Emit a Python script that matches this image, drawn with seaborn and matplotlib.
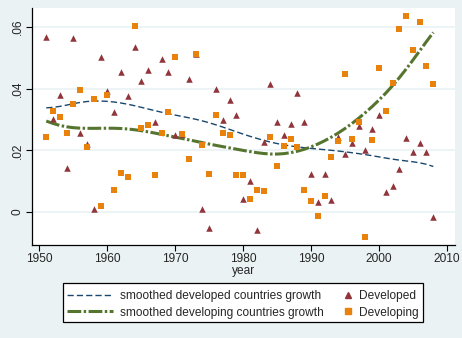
import numpy as np
import pandas as pd
import matplotlib
matplotlib.use("Agg")
import matplotlib.pyplot as plt
import seaborn as sns
from matplotlib.lines import Line2D
from matplotlib.patches import Rectangle

# ---- data ----
years = list(range(1951, 2009))
developed = [0.0569, 0.0303, 0.0380, 0.0143, 0.0566, 0.0255, 0.0221, 0.0011, 0.0502, 0.0394,
             0.0326, 0.0455, 0.0377, 0.0534, 0.0426, 0.0461, 0.0293, 0.0496, 0.0453, 0.0251,
             0.0254, 0.0432, 0.0514, 0.0011, -0.0051, 0.0399, 0.0299, 0.0364, 0.0315, 0.0043,
             0.0101, -0.0058, 0.0227, 0.0416, 0.0293, 0.0251, 0.0284, 0.0387, 0.0293, 0.0123,
             0.0033, 0.0124, 0.0040, 0.0243, 0.0189, 0.0224, 0.0280, 0.0200, 0.0270, 0.0314,
             0.0064, 0.0085, 0.0139, 0.0239, 0.0195, 0.0225, 0.0195, -0.0015]
developing = [0.0242, 0.0328, 0.0307, 0.0255, 0.0352, 0.0397, 0.0211, 0.0367, 0.0021, 0.0381,
              0.0070, 0.0125, 0.0115, 0.0605, 0.0274, 0.0282, 0.0119, 0.0256, 0.0323, 0.0504,
              0.0254, 0.0173, 0.0514, 0.0218, 0.0122, 0.0316, 0.0258, 0.0249, 0.0119, 0.0119,
              0.0041, 0.0073, 0.0067, 0.0245, 0.0148, 0.0215, 0.0238, 0.0211, 0.0073, 0.0037,
              -0.0012, 0.0051, 0.0180, 0.0229, 0.0449, 0.0238, 0.0293, -0.0080, 0.0234, 0.0466,
              0.0329, 0.0420, 0.0595, 0.0637, 0.0527, 0.0615, 0.0475, 0.0416]
y_ticks = [0.0, 0.02, 0.04, 0.06]
y_tick_labels = ["0", ".02", ".04", ".06"]
x_ticks = [1950, 1960, 1970, 1980, 1990, 2000, 2010]
line_labels = ["smoothed developed countries growth", "smoothed developing countries growth"]
marker_labels = ["Developed", "Developing"]


def stata_lowess(x, y, bw=0.8):
    x = np.asarray(x, float)
    y = np.asarray(y, float)
    n = len(x)
    k = int(np.floor((n * bw - 0.5) / 2))
    out = np.empty(n)
    for i in range(n):
        lo, hi = max(0, i - k), min(n - 1, i + k)
        xs, ys = x[lo:hi + 1], y[lo:hi + 1]
        delta = 1.0001 * max(x[hi] - x[i], x[i] - x[lo])
        w = (1 - (np.abs(xs - x[i]) / delta) ** 3) ** 3
        W = w.sum()
        xm = (w * xs).sum() / W
        ym = (w * ys).sum() / W
        b = (w * (xs - xm) * (ys - ym)).sum() / (w * (xs - xm) ** 2).sum()
        out[i] = ym + b * (x[i] - xm)
    return out


df = pd.DataFrame({"year": years, "Developed": developed, "Developing": developing})
df["smooth_dev"] = stata_lowess(df["year"], df["Developed"])
df["smooth_dvg"] = stata_lowess(df["year"], df["Developing"])

BG = "#EAF2F3"
NAVY = "#1A476F"
MAROON = "#90353B"
GREEN = "#55752F"
ORANGE = "#E8820C"
DEV_DASH = [4.5, 2.2]
DVG_DASH = [4.5, 0.8, 0.8, 0.8]
FS = 8.6

sns.set_theme(style="white")
plt.rcParams["font.family"] = ["Liberation Sans", "DejaVu Sans"]

W, H = 462, 338
fig = plt.figure(figsize=(W / 100, H / 100), dpi=100, facecolor=BG)
ax = fig.add_axes([32 / W, 1 - 245 / H, (455 - 32) / W, (245 - 8) / H])
ax.set_facecolor("white")

for t in y_ticks:
    ax.axhline(t, color=BG, lw=1.2, zorder=0)

sns.lineplot(data=df, x="year", y="smooth_dev", ax=ax, color=NAVY, lw=1.0, zorder=2)
ax.lines[-1].set_dashes(DEV_DASH)
sns.lineplot(data=df, x="year", y="smooth_dvg", ax=ax, color=GREEN, lw=2.2, zorder=2)
ax.lines[-1].set_dashes(DVG_DASH)
sns.scatterplot(data=df, x="year", y="Developed", ax=ax, marker="^", color=MAROON,
                s=22, linewidth=0, zorder=3)
sns.scatterplot(data=df, x="year", y="Developing", ax=ax, marker="s", color=ORANGE,
                s=22, linewidth=0, zorder=4)

ax.set_xlim(1948.9, 2011.2)
ax.set_ylim(-0.0107, 0.0662)
ax.set_xticks(x_ticks)
ax.set_xticklabels([str(v) for v in x_ticks], fontsize=FS)
ax.set_yticks(y_ticks)
ax.set_yticklabels(y_tick_labels, fontsize=FS, rotation=90, va="center")
ax.tick_params(axis="both", direction="out", length=4, width=0.8, color="black", pad=2,
               bottom=True, left=True)
ax.set_xlabel("year", fontsize=FS, labelpad=0)
ax.set_ylabel("")
for side in ["top", "right"]:
    ax.spines[side].set_visible(False)
for side in ["left", "bottom"]:
    ax.spines[side].set_color("black")
    ax.spines[side].set_linewidth(0.9)

# legend frame
fig.add_artist(Rectangle((63 / W, 1 - 322 / H), 360 / W, 38.7 / H, transform=fig.transFigure,
                         facecolor="white", edgecolor="black", lw=0.9, zorder=1))

h_dev = Line2D([], [], color=NAVY, lw=1.0, dashes=DEV_DASH)
h_dvg = Line2D([], [], color=GREEN, lw=2.2, dashes=DVG_DASH)
h_tri = Line2D([], [], marker="^", color=MAROON, ls="none", markersize=4.8)
h_sq = Line2D([], [], marker="s", color=ORANGE, ls="none", markersize=4.6)

common = dict(fontsize=FS, frameon=False, labelspacing=0.4, borderpad=0, borderaxespad=0,
              loc="center left")
leg1 = fig.legend([h_dev, h_dvg], line_labels, bbox_to_anchor=(67 / W, 1 - 304.2 / H),
                  handlelength=3.85, handletextpad=0.55, **common)
leg2 = fig.legend([h_tri, h_sq], marker_labels, bbox_to_anchor=(343 / W, 1 - 304.2 / H),
                  handlelength=0.8, handletextpad=0.55, **common)
leg1.set_zorder(5)
leg2.set_zorder(5)

fig.savefig("out.png", dpi=100, facecolor=BG)
